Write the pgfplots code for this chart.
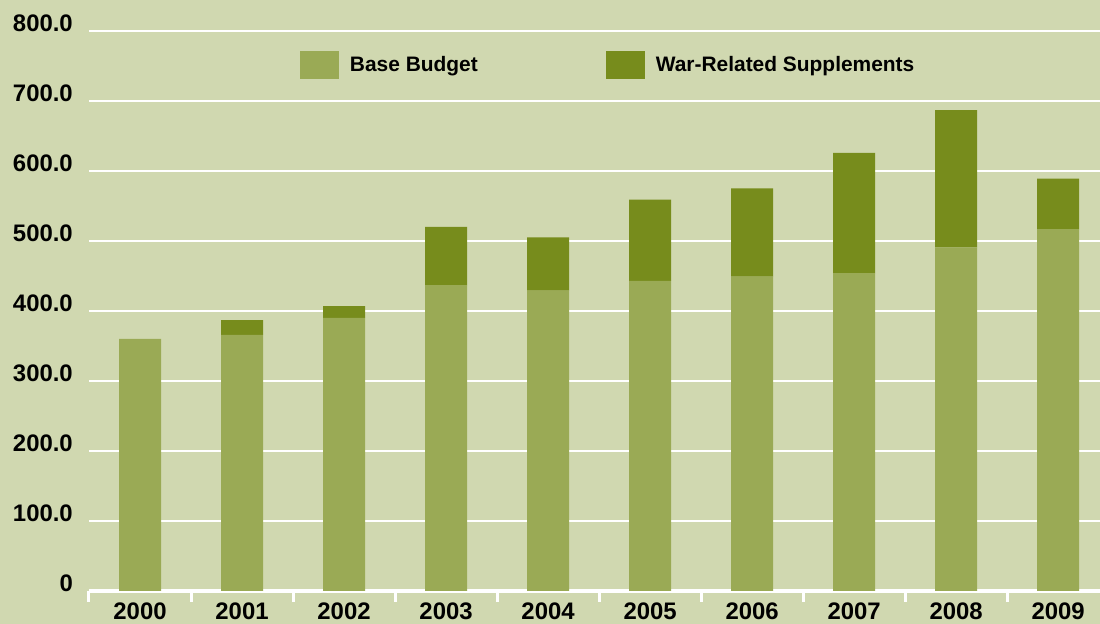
\documentclass[border=0pt]{standalone}
\usepackage{pgfplots}
\pgfplotsset{compat=1.18}
\usepackage{fontspec}
\setmainfont{Liberation Sans}
\definecolor{bgcol}{RGB}{208,216,176}
\definecolor{basecol}{RGB}{154,170,85}
\definecolor{warcol}{RGB}{119,140,28}

\begin{document}
\begin{tikzpicture}
% background and page size (1 px = 1 bp)
\fill[bgcol, use as bounding box] (-89bp,-33bp) rectangle (1011bp,591bp);
\begin{axis}[
    scale only axis,
    width=1011bp, height=560bp,
    ybar stacked, bar width=42bp,
    xmin=-0.5, xmax=9.41,
    ymin=0, ymax=800,
    xtick={0,...,9},
    xticklabels={2000,2001,2002,2003,2004,2005,2006,2007,2008,2009},
    minor xtick={-0.5,0.5,...,8.5},
    ytick={0,100,...,800},
    yticklabels={0,100.0,200.0,300.0,400.0,500.0,600.0,700.0,800.0},
    major tick length=0pt,
    minor tick length=11bp,
    tick align=outside,
    tick style={white, line width=3bp},
    separate axis lines,
    axis x line*=bottom,
    axis y line*=left,
    x axis line style={white, line width=3bp, -},
    y axis line style={draw=none},
    ymajorgrids, grid style={white, line width=2.5bp},
    tick label style={font=\fontsize{24}{27}\selectfont\bfseries, inner sep=0pt},
    xticklabel style={anchor=north, yshift=-12bp},
    yticklabel style={anchor=east, xshift=-16bp, yshift=8bp},
    legend columns=2,
    legend style={at={(0.2087,0.939)}, anchor=west, draw=none, fill=none,
        inner sep=0pt, outer sep=0pt,
        font=\fontsize{21}{25}\selectfont\bfseries,
        nodes={inner sep=0pt, anchor=west},
        /tikz/every odd column/.append style={column sep=11bp},
        /tikz/every even column/.append style={column sep=128bp}},
]
\addplot+[draw=none, fill=basecol,
    legend image code/.code={\fill[basecol] (0bp,-14bp) rectangle (39bp,14bp);}]
coordinates{(0,360)(1,366)(2,390)(3,437)(4,429)(5,443)(6,449)(7,454)(8,491)(9,517)};
\addplot+[draw=none, fill=warcol,
    legend image code/.code={\fill[warcol] (0bp,-14bp) rectangle (39bp,14bp);}]
coordinates{(0,0)(1,21)(2,17)(3,83)(4,76)(5,116)(6,126)(7,172)(8,196)(9,72)};
\legend{Base Budget, War-Related Supplements}
\end{axis}
\end{tikzpicture}
\end{document}
